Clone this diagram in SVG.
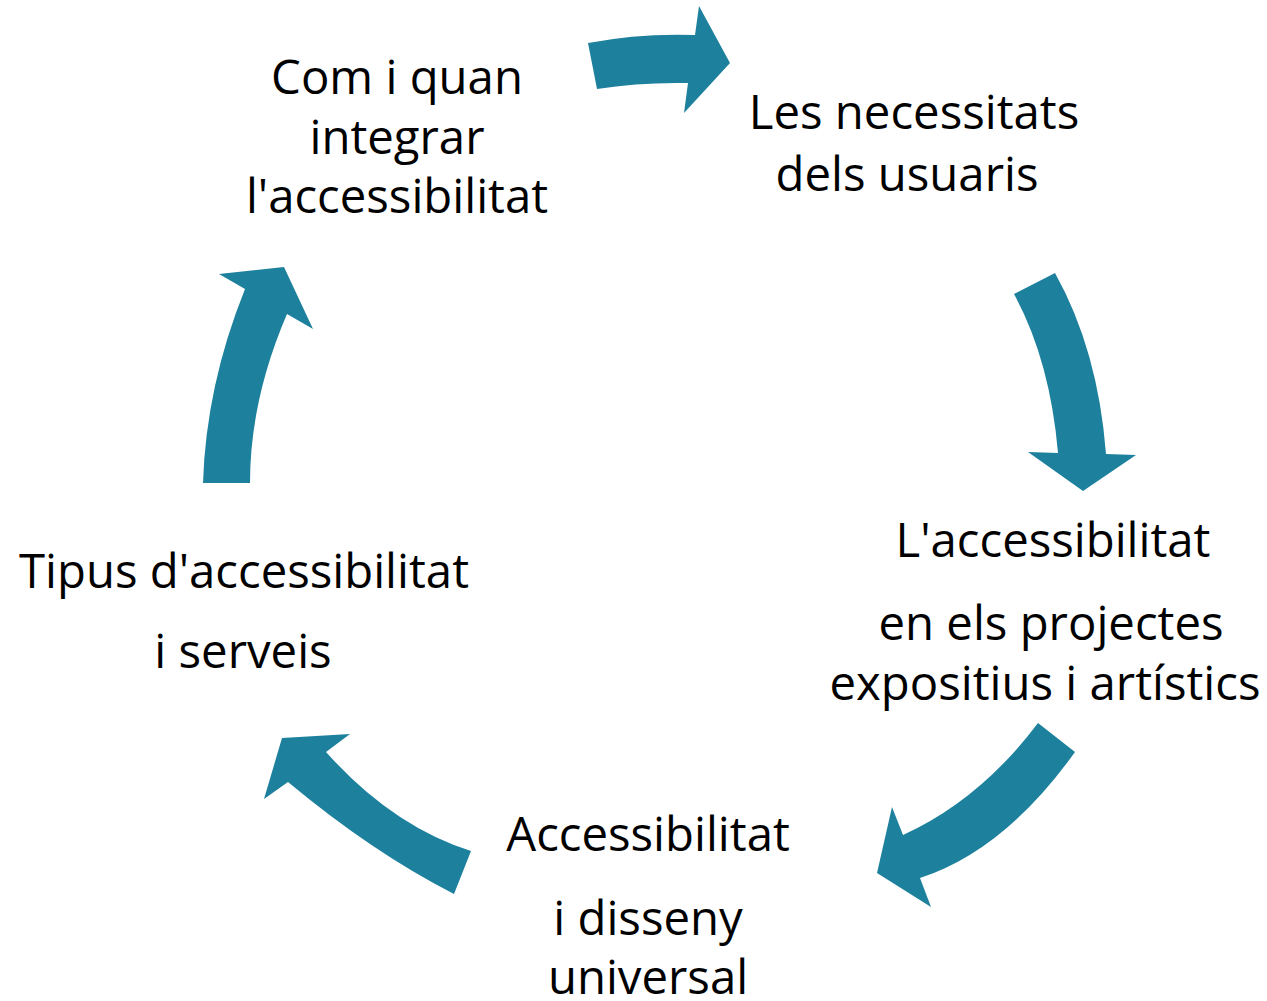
<svg xmlns="http://www.w3.org/2000/svg" width="1267" height="1001" viewBox="0 0 1267 1001">
<style>
.arrow{fill:#1d809d;stroke:none}
.lbl{font-family:"Open Sans","Noto Sans","Liberation Sans",sans-serif;font-size:47.3px;fill:#000;text-anchor:middle}
</style>
<rect width="1267" height="1001" fill="#fff"/>
<g id="connectors">
<path class="arrow" d="M588,43 Q640,33 695,35 L699,6 L730,63 L684,113 L688,83 Q640,82 597,89 Z"/>
<path class="arrow" d="M1014,294 Q1050,360 1058,453 L1028,452 L1083,491 L1136,455 L1106,454 Q1098,350 1055,273 Z"/>
<path class="arrow" d="M1038,723 Q980,800 903,835 L892,807 L877,873 L931,907 L920,878 Q1005,850 1075,752 Z"/>
<path class="arrow" d="M471,851 Q392,826 326,752 L350,734 L282,738 L264,799 L288,782 Q372,852 454,894 Z"/>
<path class="arrow" d="M203,483 Q206,386 245,289 L219,274 L284,267 L313,329 L287,314 Q250,400 250,483 Z"/>
</g>
<g id="node-com-i-quan">
<text class="lbl" x="397" y="94">Com i quan</text>
<text class="lbl" x="397" y="154">integrar</text>
<text class="lbl" x="397" y="213">l'accessibilitat</text>
</g>
<g id="node-necessitats">
<text class="lbl" x="914" y="129">Les necessitats</text>
<text class="lbl" x="907" y="191">dels usuaris</text>
</g>
<g id="node-projectes">
<text class="lbl" x="1053" y="557">L'accessibilitat</text>
<text class="lbl" x="1051" y="640">en els projectes</text>
<text class="lbl" x="1045" y="700">expositius i artístics</text>
</g>
<g id="node-disseny">
<text class="lbl" x="648" y="851">Accessibilitat</text>
<text class="lbl" x="648" y="935">i disseny</text>
<text class="lbl" x="648" y="994">universal</text>
</g>
<g id="node-tipus">
<text class="lbl" x="244" y="588">Tipus d'accessibilitat</text>
<text class="lbl" x="243" y="668">i serveis</text>
</g>
</svg>
